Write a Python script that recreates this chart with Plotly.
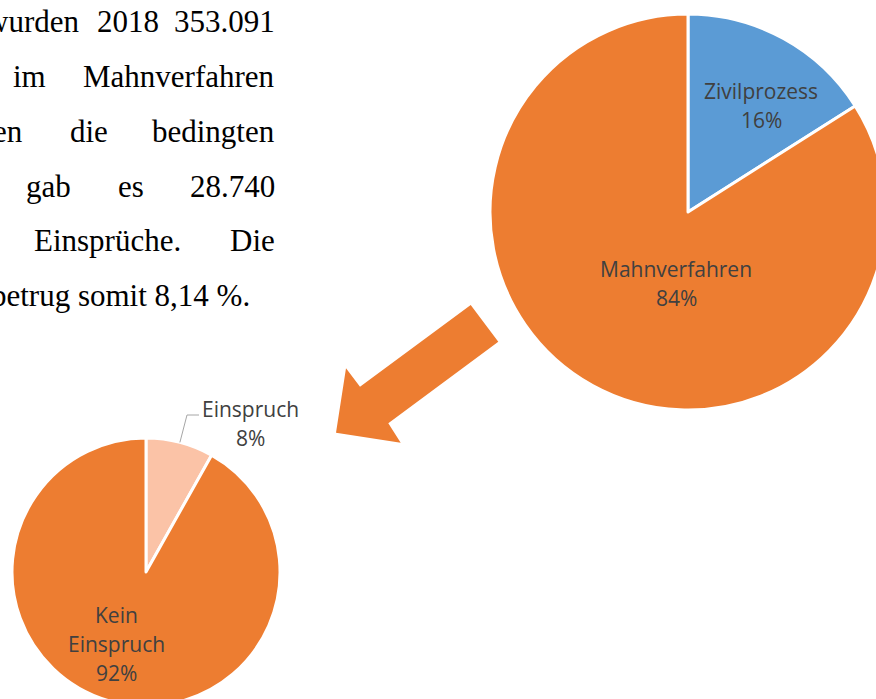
import math
import plotly.graph_objects as go

# ---------------- data ----------------
big_labels = ["Zivilprozess", "Mahnverfahren"]
big_values = [16, 84]
big_colors = ["#5B9BD5", "#ED7D31"]

small_labels = ["Einspruch", "Kein Einspruch"]
small_values = [28740, 324351]
small_colors = ["#FBC3A7", "#ED7D31"]

# document text (visible part of a justified paragraph)
doc_words = [
    ["wurden", "2018", "353.091"],
    ["im", "Mahnverfahren"],
    ["en", "die", "bedingten"],
    ["gab", "es", "28.740"],
    ["Einsprüche.", "Die"],
    ["betrug somit 8,14 %."],
]

# ---------------- layout geometry (pixels) ----------------
W, H = 890, 712          # figure a bit larger than the window, clipped like the crop
BIG = (688, 212, 198)    # cx, cy, r
SMALL = (146, 572, 134)

def domain(cx, cy, r):
    return dict(x=[(cx - r) / W, (cx + r) / W],
                y=[1 - (cy + r) / H, 1 - (cy - r) / H])

fig = go.Figure()
fig.add_trace(go.Pie(
    labels=big_labels, values=big_values, sort=False, direction="clockwise",
    rotation=0, marker=dict(colors=big_colors, line=dict(color="white", width=3)),
    textinfo="none", hoverinfo="label+percent", showlegend=False,
    domain=domain(*BIG)))
fig.add_trace(go.Pie(
    labels=small_labels, values=small_values, sort=False, direction="clockwise",
    rotation=0, marker=dict(colors=small_colors, line=dict(color="white", width=3)),
    textinfo="none", hoverinfo="label+percent", showlegend=False,
    domain=domain(*SMALL)))

def pct(vals, i):
    return f"{round(vals[i] / sum(vals) * 100)}%"

label_font = dict(family="Open Sans", size=21, color="#404040")
annotations = []

def label(lines, x, y0, step=29):
    for k, t in enumerate(lines):
        annotations.append(dict(x=x, y=y0 + k * step, xref="x", yref="y", text=t,
                                showarrow=False, font=label_font, xanchor="center",
                                yanchor="middle", borderpad=0))

label([big_labels[0], pct(big_values, 0)], 761, 91)
label([big_labels[1], pct(big_values, 1)], 676, 269)
label([small_labels[0], pct(small_values, 0)], 250, 409)
label(small_labels[1].split(" ") + [pct(small_values, 1)], 116, 615)

# paragraph text
FS = 31
serif = dict(family="Liberation Serif", size=FS, color="black")
baselines = [31.7, 86.7, 141.5, 196.5, 251.0, 305.5]
word_pos = [
    [(80, "right"), (96, "left"), (276, "right")],
    [(12, "left"), (276, "right")],
    [(24, "right"), (69, "left"), (276, "right")],
    [(25, "left"), (117, "left"), (276, "right")],
    [(33, "left"), (276, "right")],
    [(251, "right")],
]
for words, pos, b in zip(doc_words, word_pos, baselines):
    for w, (x, anc) in zip(words, pos):
        annotations.append(dict(x=x, y=b - 0.3375 * FS, xref="x", yref="y", text=w,
                                showarrow=False, font=serif, xanchor=anc,
                                yanchor="middle", borderpad=0))

# leader line for the small "Einspruch" slice
cx, cy, r = SMALL
frac_mid = (small_values[0] / 2) / sum(small_values)
ang = 2 * math.pi * frac_mid
sx, sy = cx + r * math.sin(ang), cy - r * math.cos(ang)
shapes = [dict(type="path", xref="x", yref="y",
               path=f"M{sx:.1f},{sy:.1f} L187,415 L199,415",
               line=dict(color="#A6A6A6", width=1))]

# big block arrow
arrow = [(470.7, 305), (498.3, 341.7), (388.3, 423.3), (400.7, 442.7),
         (336, 432.7), (346, 368.3), (360, 386.7)]
shapes.append(dict(type="path", xref="x", yref="y",
                   path="M" + " L".join(f"{x},{y}" for x, y in arrow) + " Z",
                   fillcolor="#ED7D31", line=dict(width=0)))

fig.update_layout(
    width=W, height=H, margin=dict(l=0, r=0, t=0, b=0),
    paper_bgcolor="white", plot_bgcolor="white",
    xaxis=dict(range=[0, W], visible=False, fixedrange=True),
    yaxis=dict(range=[H, 0], visible=False, fixedrange=True),
    annotations=annotations, shapes=shapes, showlegend=False,
)

post = ("var d=document.getElementById('{plot_id}');"
        "d.style.width='876px';d.style.height='699px';d.style.overflow='hidden';"
        "document.body.style.margin='0';document.body.style.overflow='hidden';")
fig.write_html("out.html", config=dict(displayModeBar=False), post_script=post)
